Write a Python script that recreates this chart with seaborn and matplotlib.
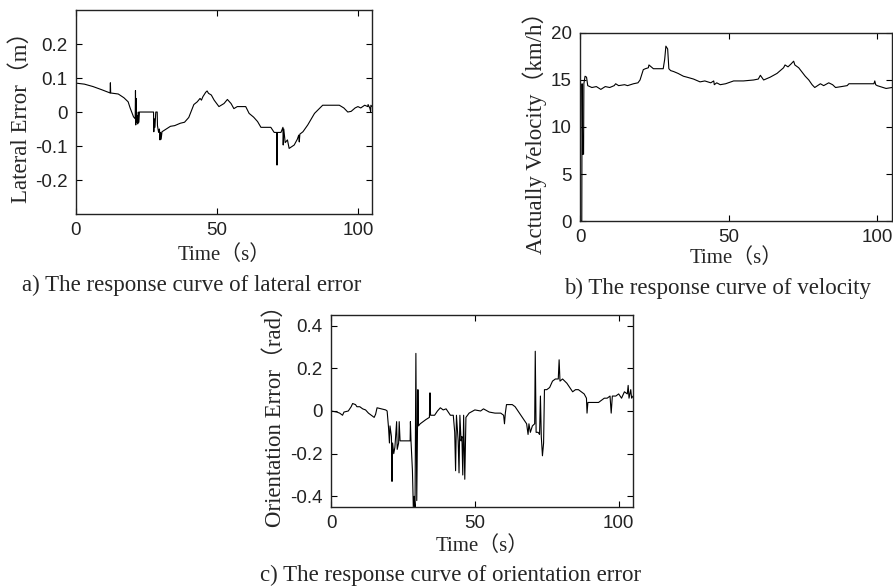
import matplotlib
matplotlib.use("Agg")
import matplotlib.pyplot as plt
import seaborn as sns

# ---- data ----
lat_t = [0, 3, 6, 9, 11.5, 12.1, 12.2, 12.3, 15, 17, 18.5, 19.2, 20.4, 21.0, 21.1, 21.2,
         21.3, 21.4, 21.7, 21.9, 22.1, 22.3, 22.5, 27.5, 27.6, 27.7, 28.0, 28.3, 28.8,
         28.9, 29.3, 29.6, 29.8, 30.0, 30.2, 30.5, 32, 33.5, 35, 37, 38.5, 40, 41.8, 43,
         44, 44.5, 45, 46, 46.5, 47, 48, 49, 50.7, 52.5, 53.7, 55, 56, 57.2, 60.2, 61.4,
         63, 64.4, 65.6, 69.1, 70.3, 71.2, 71.3, 71.4, 72.7, 73.4, 73.5, 73.7, 74.2, 75,
         75.6, 77.4, 78.5, 79, 79.2, 79.4, 80.5, 82.2, 84.6, 87.5, 93.4, 95, 96.4, 97.6,
         99, 100, 101, 102.4, 103.5, 103.6, 104.2, 104.5, 104.6, 105]
lat_err = [0.085, 0.082, 0.075, 0.066, 0.058, 0.056, 0.086, 0.056, 0.053, 0.042, 0.03,
           0.012, -0.014, -0.02, 0.063, -0.038, 0.04, -0.03, -0.01, -0.035, 0.0, -0.03,
           0.0, 0.0, -0.058, -0.02, -0.045, 0.0, 0.0, -0.04, -0.06, -0.05, -0.082, -0.06,
           -0.08, -0.058, -0.05, -0.042, -0.04, -0.033, -0.03, -0.016, 0.022, 0.03, 0.04,
           0.035, 0.045, 0.058, 0.062, 0.055, 0.05, 0.035, 0.016, 0.025, 0.037, 0.025,
           0.01, 0.016, 0.016, -0.004, -0.015, -0.028, -0.045, -0.045, -0.06, -0.06,
           -0.156, -0.06, -0.06, -0.045, -0.097, -0.05, -0.09, -0.082, -0.107, -0.097,
           -0.08, -0.068, -0.088, -0.065, -0.058, -0.038, -0.004, 0.02, 0.02, 0.012, 0.0,
           0.002, 0.012, 0.016, 0.012, 0.02, 0.016, 0.022, 0.012, 0.002, 0.02, 0.016]

vel_t = [0, 0.6, 0.7, 0.9, 1.2, 1.3, 1.7, 2.2, 2.6, 4, 5.5, 7, 8.5, 10, 11.5, 12, 13, 15,
         16, 18, 19.5, 20.2, 20.5, 21.3, 22, 23, 23.2, 24.7, 28, 28.5, 28.9, 29.5, 29.9,
         30.5, 31.5, 33, 34.8, 36, 38.2, 40.4, 42, 44, 45, 45.2, 46, 47.2, 49, 51.7, 55,
         58.4, 60, 60.7, 61.8, 64, 66.3, 68.5, 69, 70, 71, 71.9, 72.3, 73.6, 75.8, 77,
         78.1, 79, 80.9, 82, 83.7, 85, 86, 88, 89.9, 90.5, 92, 98.9, 99.2, 99.5, 100, 102,
         103, 105]
velocity = [0, 0, 14.6, 7.1, 7.1, 14.6, 15.4, 15.3, 14.4, 14.2, 14.3, 14.0, 14.3, 14.2,
            14.4, 14.6, 14.4, 14.5, 14.4, 14.6, 14.7, 15.0, 15.3, 16.1, 16.2, 16.3, 16.6,
            16.2, 16.2, 17.2, 18.6, 18.3, 16.2, 16.0, 15.9, 15.7, 15.4, 15.3, 15.1, 14.8,
            14.9, 14.7, 14.9, 14.5, 14.7, 14.5, 14.6, 14.9, 14.9, 15.0, 15.1, 15.5, 15.0,
            15.3, 15.7, 16.3, 16.6, 16.4, 16.7, 17.0, 16.6, 16.3, 15.4, 15.0, 14.5, 14.2,
            14.6, 14.4, 14.7, 14.5, 14.2, 14.3, 14.4, 14.6, 14.6, 14.6, 14.9, 14.5, 14.4,
            14.2, 14.1, 14.2]

ori_t = [0, 2, 3, 4, 4.5, 6, 7, 7.5, 8.5, 9, 10, 11, 12, 13, 14, 15, 15.5, 16, 17.5, 19,
         19.5, 20, 20.3, 20.5, 21, 21.2, 21.4, 21.8, 22.2, 22.8, 23, 23.5, 23.7, 24, 27.5,
         27.6, 27.8, 28.3, 28.6, 28.9, 29.2, 29.5, 29.8, 30.2, 30.4, 31, 32, 33, 34.2,
         34.4, 34.6, 36, 37, 38, 39, 40, 41, 41.5, 42.5, 43, 43.3, 43.6, 44.2, 44.5, 44.8,
         45.2, 45.5, 45.8, 46.1, 46.5, 46.9, 48, 50, 52, 53, 55, 57, 59, 60, 60.3, 60.6,
         61, 63, 64, 65, 66, 67, 68, 68.5, 68.8, 69.3, 70, 70.8, 71, 71.3, 72, 72.5, 72.8,
         73.1, 73.5, 73.9, 74.2, 75, 76, 77, 78, 79, 79.3, 79.6, 80.5, 82, 83, 84, 85, 86,
         87, 88, 88.8, 89, 89.3, 90, 92, 93, 94, 95, 96, 97, 97.4, 97.8, 99, 100, 101, 102,
         103, 103.3, 103.6, 104.2, 104.5, 105]
ori_err = [0.0, -0.005, -0.01, -0.02, -0.005, 0.0, 0.02, 0.035, 0.03, 0.02, 0.02, 0.01,
           0.005, -0.01, -0.02, -0.03, -0.015, 0.015, 0.01, 0.005, 0.0, -0.08, -0.15,
           -0.07, -0.12, -0.33, -0.15, -0.2, -0.17, -0.05, -0.18, -0.15, -0.05, -0.14,
           -0.14, -0.05, -0.14, -0.28, -0.45, -0.4, -0.45, 0.27, -0.42, 0.1, -0.07, -0.06,
           -0.05, -0.04, -0.03, 0.085, -0.02, -0.02, 0.0, 0.015, 0.005, 0.01, -0.01, -0.02,
           -0.02, -0.1, -0.28, -0.02, -0.14, -0.29, -0.02, -0.14, -0.12, -0.3, -0.02,
           -0.32, -0.03, -0.01, 0.005, 0.0, 0.01, -0.005, -0.01, -0.01, -0.02, -0.06,
           -0.01, 0.03, 0.03, 0.02, 0.0, -0.02, -0.04, -0.06, -0.11, -0.06, -0.1, -0.07,
           -0.06, 0.28, -0.1, -0.1, -0.11, 0.07, -0.12, -0.21, -0.15, 0.1, 0.1, 0.11,
           0.14, 0.15, 0.15, 0.24, 0.14, 0.15, 0.13, 0.11, 0.09, 0.1, 0.1, 0.09, 0.08,
           0.06, -0.01, 0.04, 0.04, 0.04, 0.04, 0.05, 0.06, 0.06, 0.07, -0.01, 0.07, 0.07,
           0.08, 0.06, 0.09, 0.08, 0.12, 0.06, 0.1, 0.06, 0.07]

lat_ticks = [-0.2, -0.1, 0, 0.1, 0.2]
lat_ticklabels = ["-0.2", "-0.1", "0", "0.1", "0.2"]
vel_ticks = [0, 5, 10, 15, 20]
ori_ticks = [-0.4, -0.2, 0, 0.2, 0.4]
ori_ticklabels = ["-0.4", "-0.2", "0", "0.2", "0.4"]
time_ticks = [0, 50, 100]

sns.set_style("ticks")
serif = ["Liberation Serif", "Noto Sans CJK SC"]
sans = ["Liberation Sans", "DejaVu Sans"]

fig = plt.figure(figsize=(8.93, 5.87), dpi=100)
ax_a = fig.add_axes([0.0851, 0.6354, 0.3315, 0.3475])
ax_b = fig.add_axes([0.6495, 0.6235, 0.3494, 0.3203])
ax_c = fig.add_axes([0.3707, 0.1363, 0.3382, 0.3271])


def style_axes(ax, ylim, yticks, yticklabels, ylabel, ylab_x, xlab_y):
    ax.set_xlim(0, 105)
    ax.set_ylim(*ylim)
    ax.set_xticks(time_ticks)
    ax.set_xticklabels([str(v) for v in time_ticks])
    ax.set_yticks(yticks)
    ax.set_yticklabels(yticklabels)
    ax.tick_params(direction="in", length=4, width=0.8, top=True, right=True,
                   labelsize=13.5, pad=6, colors="black")
    for lab in ax.get_xticklabels() + ax.get_yticklabels():
        lab.set_family(sans)
        lab.set_color("#222222")
    for sp in ax.spines.values():
        sp.set_visible(True)
        sp.set_linewidth(1.0)
        sp.set_color("#222222")
    ax.set_xlabel("Time（s）", family=serif, fontsize=15)
    ax.set_ylabel(ylabel, family=serif, fontsize=16.5)
    ax.yaxis.set_label_coords(ylab_x, 0.5)
    ax.xaxis.set_label_coords(0.5, xlab_y)


sns.lineplot(x=lat_t, y=lat_err, sort=False, estimator=None, color="black",
             linewidth=0.8, ax=ax_a)
style_axes(ax_a, (-0.3, 0.3), lat_ticks, lat_ticklabels, "Lateral Error（m）",
           -0.15, -0.155)

sns.lineplot(x=vel_t, y=velocity, sort=False, estimator=None, color="black",
             linewidth=0.8, ax=ax_b)
style_axes(ax_b, (0, 20), vel_ticks, [str(v) for v in vel_ticks],
           "Actually Velocity（km/h）", -0.105, -0.145)

sns.lineplot(x=ori_t, y=ori_err, sort=False, estimator=None, color="black",
             linewidth=0.8, ax=ax_c)
style_axes(ax_c, (-0.45, 0.45), ori_ticks, ori_ticklabels, "Orientation Error（rad）",
           -0.15, -0.15)

fig.text(0.215, 0.5145, "a) The response curve of lateral error", family=serif,
         fontsize=16.5, ha="center", va="center")
fig.text(0.804, 0.5094, "b) The response curve of velocity", family=serif,
         fontsize=16.5, ha="center", va="center")
fig.text(0.505, 0.0204, "c) The response curve of orientation error", family=serif,
         fontsize=16.5, ha="center", va="center")

fig.savefig("out.png", dpi=100, facecolor="white")
